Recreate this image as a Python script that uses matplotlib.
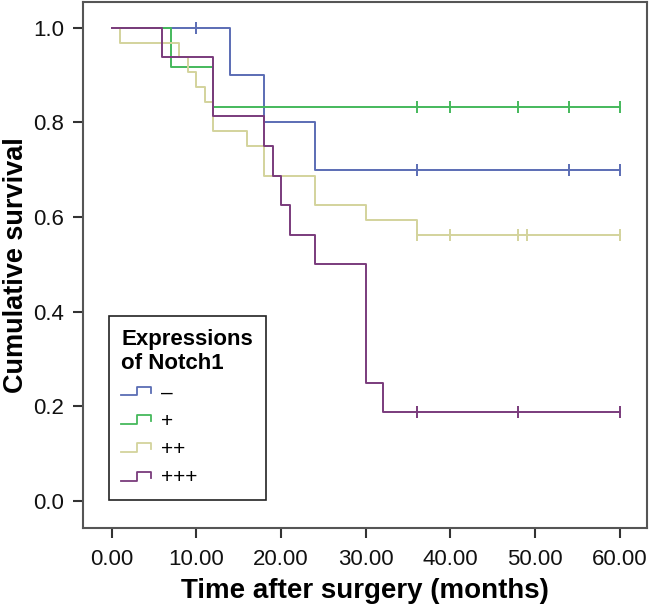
import matplotlib
matplotlib.use("Agg")
import matplotlib.pyplot as plt
from matplotlib.lines import Line2D
from matplotlib.legend_handler import HandlerBase

plt.rcParams["font.family"] = ["Liberation Sans", "DejaVu Sans"]

# Kaplan-Meier curves: event times (months) and survival after each event
groups = ["\u2013", "+", "++", "+++"]
colors = ["#5b6db4", "#45b95c", "#d3d39c", "#7a3b7c"]

event_times = [
    [14, 18, 24],
    [7, 12],
    [1, 8, 9, 10, 11, 12, 16, 18, 24, 30, 36],
    [6, 12, 18, 19, 20, 21, 24, 30, 32],
]
survival = [
    [0.9, 0.8, 0.7],
    [0.9167, 0.8333],
    [0.96875, 0.9375, 0.90625, 0.875, 0.84375, 0.78125, 0.75, 0.6875,
     0.625, 0.59375, 0.5625],
    [0.9375, 0.8125, 0.75, 0.6875, 0.625, 0.5625, 0.5, 0.25, 0.1875],
]
censor_times = [
    [10, 36, 54, 60],
    [36, 40, 48, 54, 60],
    [36, 40, 48, 49, 60],
    [36, 48, 60],
]
end_time = 60

x_ticks = [0, 10, 20, 30, 40, 50, 60]
y_ticks = [0.0, 0.2, 0.4, 0.6, 0.8, 1.0]


class StepHandler(HandlerBase):
    """Legend icon drawn as a small step."""
    def create_artists(self, legend, orig_handle, xdescent, ydescent,
                       width, height, fontsize, trans):
        xs = [0, 0.52, 0.52, 1, 1]
        ys = [0.2, 0.2, 0.8, 0.8, 0.4]
        line = Line2D([x * width - xdescent for x in xs],
                      [y * height - ydescent for y in ys],
                      color=orig_handle.get_color(), lw=1.3)
        line.set_transform(trans)
        return [line]


def surv_at(times, surv, t):
    s = 1.0
    for ti, si in zip(times, surv):
        if ti <= t:
            s = si
    return s


fig = plt.figure(figsize=(6.5, 6.05), dpi=100)
ax = fig.add_axes([0.128, 0.1278, 0.8668, 0.8694])

handles = []
for name, col, et, sv, ct in zip(groups, colors, event_times, survival, censor_times):
    xs = [0] + et + [end_time]
    ys = [1.0] + sv + [sv[-1]]
    line, = ax.step(xs, ys, where="post", color=col, lw=1.4)
    cy = [surv_at(et, sv, t) for t in ct]
    ax.plot(ct, cy, ls="none", marker="|", ms=9, mew=1.4, color=col)
    handles.append(line)

ax.set_xlim(-3.35, 63.15)
ax.set_ylim(-0.0564, 1.055)
ax.set_xticks(x_ticks)
ax.set_xticklabels([f"{v:.2f}" for v in x_ticks])
ax.set_yticks(y_ticks)
ax.set_yticklabels([f"{v:.1f}" for v in y_ticks])
ax.tick_params(axis="both", labelsize=16, length=7, width=1.5,
               color="#333333", labelcolor="#111111")
ax.tick_params(axis="x", pad=8)
ax.tick_params(axis="y", pad=7)
for sp in ax.spines.values():
    sp.set_color("#555555")
    sp.set_linewidth(1.5)

ax.set_xlabel("Time after surgery (months)", fontsize=20, fontweight="bold",
              labelpad=6)
ax.set_ylabel("Cumulative survival", fontsize=19.5, fontweight="bold")
ax.yaxis.set_label_coords(-0.096, 0.5)

leg = ax.legend(handles, groups, title="Expressions\nof Notch1",
                loc="lower left", bbox_to_anchor=(0.0456, 0.0527),
                fontsize=15, title_fontproperties={"weight": "bold", "size": 16},
                handler_map={Line2D: StepHandler()},
                handlelength=1.4, handletextpad=0.5, labelspacing=0.45,
                borderpad=0.6, fancybox=False, framealpha=1,
                edgecolor="#222222", borderaxespad=0)
leg._legend_box.align = "left"
leg.get_frame().set_linewidth(1.2)

fig.savefig("out.png", dpi=100)
